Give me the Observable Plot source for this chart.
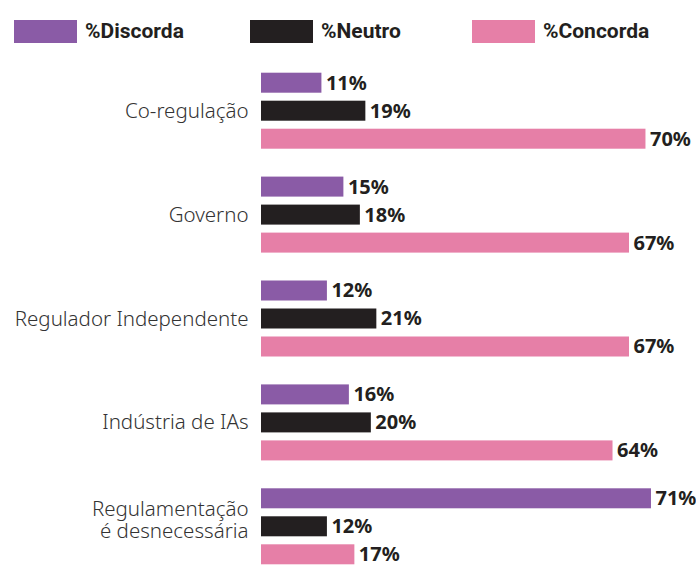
<!DOCTYPE html>
<html><head><meta charset="utf-8">
<script src="https://cdn.jsdelivr.net/npm/d3@7"></script>
<script src="https://cdn.jsdelivr.net/npm/@observablehq/plot@0.6"></script>
<style>
body{margin:0;background:#fff;font-family:Roboto, "Noto Sans", sans-serif;}
#legend{position:relative;height:60px;width:696px;}
.sw{position:absolute;top:20px;width:63px;height:23px;}
.lt{position:absolute;top:18px;line-height:27px;font-weight:700;font-size:21px;color:#231f20;}
#chart svg{display:block;}
</style></head><body>
<div id="legend"></div>
<div id="chart"></div>
<script>
const categories = ["Co-regulação","Governo","Regulador Independente","Indústria de IAs","Regulamentação\né desnecessária"];
const series = ["%Discorda","%Neutro","%Concorda"];
const discorda = [11,15,12,16,71];
const neutro = [19,18,21,20,12];
const concorda = [70,67,67,64,17];
const colors = ["#8a5ba6","#231f20","#e67fa7"];

// legend
const legendX = [14, 250, 472];
const legend = document.getElementById("legend");
series.forEach((s,i)=>{
  const sw = document.createElement("div");
  sw.className="sw"; sw.style.left=legendX[i]+"px"; sw.style.background=colors[i];
  legend.appendChild(sw);
  const t = document.createElement("div");
  t.className="lt"; t.style.left=(legendX[i]+71)+"px"; t.textContent=s;
  legend.appendChild(t);
});

const values = [discorda, neutro, concorda];
const rows = categories.flatMap((c,i)=>series.map((s,j)=>({cat:c, s, v:values[j][i]})));

const chart = Plot.plot({
  width:696, height:505,
  marginTop:12.7, marginBottom:0.7, marginLeft:261, marginRight:0,
  x:{domain:[0,79.2], axis:null},
  y:{domain:series, axis:null, paddingInner:0.2857, paddingOuter:0, round:false},
  fy:{domain:categories, axis:null, paddingInner:0.2685, paddingOuter:0, round:false},
  color:{domain:series, range:colors},
  marks:[
    Plot.barX(rows,{x:"v", y:"s", fy:"cat", fill:"s"}),
    Plot.text(rows,{x:"v", y:"s", fy:"cat", text:d=>d.v+"%", textAnchor:"start", dx:4,
      fontSize:20, fontWeight:700, fill:"#231f20"}),
    Plot.text(categories.filter(d=>!d.includes("\n")),{fy:d=>d, y:()=>"%Neutro", frameAnchor:"left", text:d=>d,
      textAnchor:"end", dx:-13, fontSize:20.5, fontWeight:300, fill:"#333"}),
    Plot.text(categories.filter(d=>d.includes("\n")),{fy:d=>d, y:()=>"%Neutro", frameAnchor:"left", text:d=>d,
      textAnchor:"end", dx:-13, dy:-7, fontSize:20.5, fontWeight:300, fill:"#333", lineHeight:1.1})
  ]
});
document.getElementById("chart").appendChild(chart);
</script>
</body></html>
